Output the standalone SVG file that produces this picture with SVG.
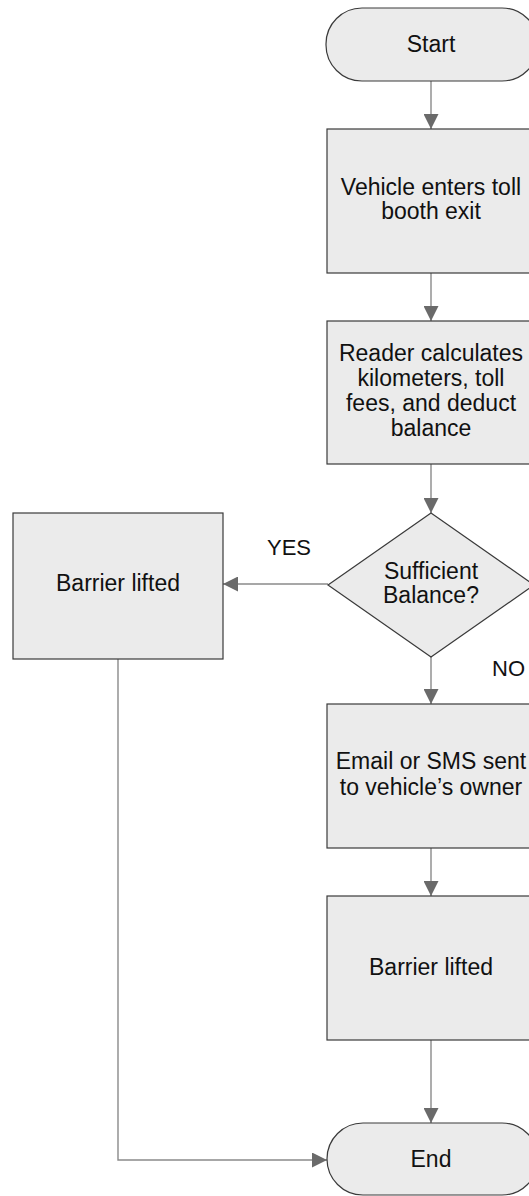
<svg xmlns="http://www.w3.org/2000/svg" width="529" height="1196" viewBox="0 0 529 1196">
  <style>
    .shape { fill: #ebebeb; stroke: #3a3a3a; stroke-width: 1.2; }
    .label { font-family: "Liberation Sans", Arial, sans-serif; font-size: 23px; fill: #111; text-anchor: middle; }
    .tag { font-family: "Liberation Sans", Arial, sans-serif; font-size: 22px; fill: #111; }
    .wire { fill: none; stroke: #8a8a8a; stroke-width: 1.4; marker-end: url(#head); }
  </style>
  <defs>
    <marker id="head" markerUnits="userSpaceOnUse" markerWidth="16" markerHeight="15" refX="15" refY="7.5" orient="auto">
      <path d="M0,0 L15,7.5 L0,15 Z" fill="#6a6a6a"/>
    </marker>
  </defs>
  <rect width="529" height="1196" fill="#ffffff"/>

  <g id="connectors">
    <line class="wire" x1="431" y1="81" x2="431" y2="129"/>
    <line class="wire" x1="431" y1="273" x2="431" y2="321"/>
    <line class="wire" x1="431" y1="464" x2="431" y2="513"/>
    <line class="wire" x1="328" y1="584" x2="223" y2="584"/>
    <line class="wire" x1="431" y1="657" x2="431" y2="704"/>
    <line class="wire" x1="431" y1="848" x2="431" y2="896"/>
    <line class="wire" x1="431" y1="1040" x2="431" y2="1123"/>
    <polyline class="wire" points="118,659 118,1160 327,1160"/>
    <text class="tag" x="267" y="555">YES</text>
    <text class="tag" x="492" y="676">NO</text>
  </g>

  <g id="start">
    <rect class="shape" x="326" y="8" width="212" height="73" rx="36" ry="36"/>
    <text class="label" x="431" y="52">Start</text>
  </g>

  <g id="enter-exit">
    <rect class="shape" x="327" y="129" width="209" height="144"/>
    <text class="label" x="431" y="195">Vehicle enters toll</text>
    <text class="label" x="431" y="219">booth exit</text>
  </g>

  <g id="calculate">
    <rect class="shape" x="327" y="321" width="209" height="143"/>
    <text class="label" x="431" y="361">Reader calculates</text>
    <text class="label" x="431" y="386">kilometers, toll</text>
    <text class="label" x="431" y="411">fees, and deduct</text>
    <text class="label" x="431" y="436">balance</text>
  </g>

  <g id="balance-check">
    <polygon class="shape" points="431,513 534,585 431,657 328,585"/>
    <text class="label" x="431" y="579">Sufficient</text>
    <text class="label" x="431" y="603">Balance?</text>
  </g>

  <g id="barrier-yes">
    <rect class="shape" x="13" y="513" width="210" height="146"/>
    <text class="label" x="118" y="591">Barrier lifted</text>
  </g>

  <g id="notify-owner">
    <rect class="shape" x="327" y="704" width="209" height="144"/>
    <text class="label" x="431" y="769">Email or SMS sent</text>
    <text class="label" x="431" y="795">to vehicle’s owner</text>
  </g>

  <g id="barrier-no">
    <rect class="shape" x="327" y="896" width="209" height="144"/>
    <text class="label" x="431" y="975">Barrier lifted</text>
  </g>

  <g id="end">
    <rect class="shape" x="327" y="1123" width="211" height="72" rx="36" ry="36"/>
    <text class="label" x="431" y="1167">End</text>
  </g>
</svg>
